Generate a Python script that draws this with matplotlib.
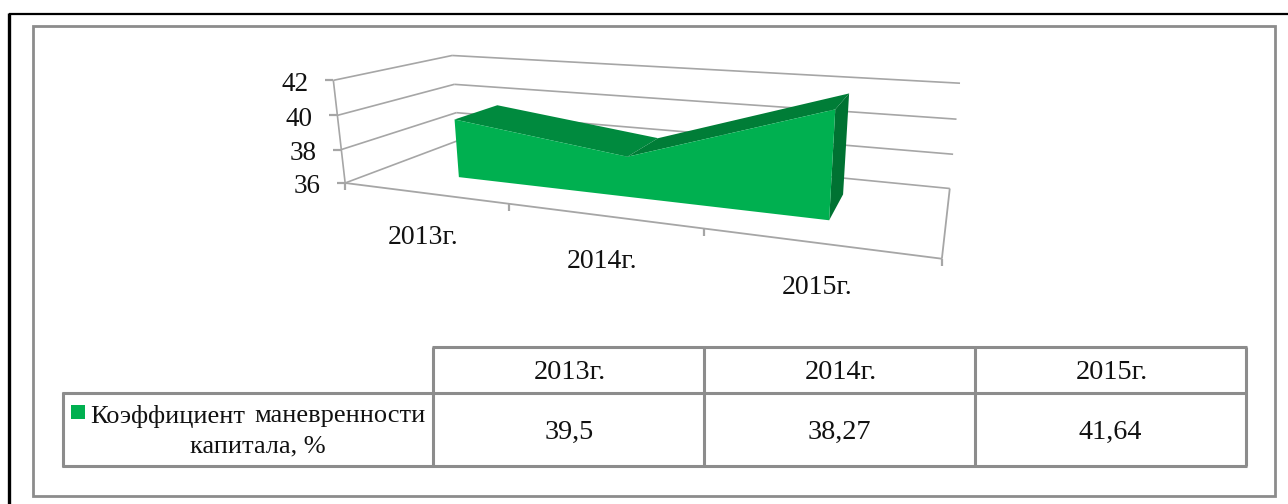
#!/usr/bin/env python3

import numpy as np
import matplotlib
matplotlib.use('Agg')
import matplotlib.pyplot as plt
from matplotlib.patches import Polygon, Rectangle

plt.rcParams['font.family'] = ['Liberation Serif', 'DejaVu Sans']

years = ['2013г.', '2014г.', '2015г.']
values = [39.5, 38.27, 41.64]
series_name = ['Коэффициент', 'маневренности', 'капитала, %']
y_ticks = [36, 38, 40, 42]

GREEN = '#00B050'
TOP1 = '#008A3E'
TOP2 = '#007D37'
SIDE = '#007232'
GRID = '#A6A6A6'
TABLE = '#8C8C8C'
TEXT = '#111111'

# depth of the area inside the box, 0 = front, 1 = back
w_front = 0.30
w_back = 0.71

# camera fit: (category pos, value, depth) -> picture pixel
calib = [
    (0, 42, 0, 333.3, 80), (0, 40, 0, 337.5, 115.7), (0, 38, 0, 341, 149.3), (0, 36, 0, 345, 183.3),
    (0, 42, 1, 452.3, 55.3), (0, 40, 1, 454.3, 84), (0, 38, 1, 456.7, 112.3),
    (3, 42, 1, 960, 83.3), (3, 40, 1, 956.7, 119), (3, 38, 1, 953.3, 154.3), (3, 36, 1, 950, 188),
    (3, 36, 0, 941.7, 258.3), (1, 36, 0, 509, 203.3), (2, 36, 0, 704.3, 229),
    (0.5, 39.5, w_front, 455, 120), (0.5, 36, w_front, 459, 177.3),
    (1.5, 38.27, w_front, 627.3, 156), (2.5, 41.64, w_front, 836, 109),
    (2.5, 36, w_front, 829.3, 220), (0.5, 39.5, w_back, 496.7, 105.7),
    (1.5, 38.27, w_back, 657.7, 139), (2.5, 41.64, w_back, 848.3, 94),
    (2.5, 36, w_back, 842.7, 195),
]


def norm(u, v, w):
    return u / 3.0, (v - 36) / 6.0, w


rows = []
for u, v, w, px, py in calib:
    a, b, c = norm(u, v, w)
    X = [a, b, c, 1]
    rows.append(X + [0, 0, 0, 0] + [-px / 1000 * x for x in X])
    rows.append([0, 0, 0, 0] + X + [-py / 1000 * x for x in X])
P = np.linalg.svd(np.array(rows))[2][-1].reshape(3, 4)


def proj(u, v, w):
    q = P @ np.array(list(norm(u, v, w)) + [1])
    return q[0] / q[2] * 1000, q[1] / q[2] * 1000


fig = plt.figure(figsize=(12.88, 5.04), dpi=100)
ax = fig.add_axes([0, 0, 1, 1])
ax.set_xlim(0, 1288)
ax.set_ylim(504, 0)
ax.axis('off')


def seg(p1, p2, color=GRID, lw=1.2, z=1):
    ax.plot([p1[0], p2[0]], [p1[1], p2[1]], color=color, lw=lw, zorder=z, solid_capstyle='butt')


# outer frames
seg((9, 14), (1288, 14), 'black', 1.6)
seg((9, 13), (9, 504), 'black', 2.4)
ax.add_patch(Rectangle((33.5, 26), 1241.5, 470, fill=False, ec=TABLE, lw=2.0, zorder=1))

# box walls and gridlines
for t in y_ticks:
    seg(proj(0, t, 0), proj(0, t, 1))
    seg(proj(0, t, 1), proj(3, t, 1))
    x0, y0 = proj(0, t, 0)
    seg((x0 - 8, y0), (x0, y0), lw=1.6)
    ax.text(x0 - 25, y0 + 4, str(t), fontsize=19.5, ha='right', va='center', color=TEXT)
seg(proj(0, 36, 0), proj(0, 42, 0))
seg(proj(0, 36, 0), proj(3, 36, 0), lw=1.3)
seg(proj(3, 36, 0), proj(3, 36, 1), lw=1.3)
for i in range(4):
    x0, y0 = proj(i, 36, 0)
    seg((x0, y0), (x0, y0 + 7), lw=1.6)

# area
us = [i + 0.5 for i in range(len(values))]
for i in range(len(values) - 1):
    ax.add_patch(Polygon([proj(us[i], values[i], w_front), proj(us[i], values[i], w_back),
                          proj(us[i + 1], values[i + 1], w_back), proj(us[i + 1], values[i + 1], w_front)],
                         fc=[TOP1, TOP2][i], ec='none', zorder=3))
ax.add_patch(Polygon([proj(us[-1], values[-1], w_front), proj(us[-1], values[-1], w_back),
                      proj(us[-1], 36, w_back), proj(us[-1], 36, w_front)],
                     fc=SIDE, ec='none', zorder=3))
front = [proj(u, v, w_front) for u, v in zip(us, values)]
front += [proj(us[-1], 36, w_front), proj(us[0], 36, w_front)]
ax.add_patch(Polygon(front, fc=GREEN, ec='none', zorder=4))

# category labels
label_pos = [(422.7, 237), (602, 261), (816.7, 288)]
for name, (lx, ly) in zip(years, label_pos):
    ax.text(lx, ly, name, fontsize=20, ha='center', va='center', color=TEXT)

# data table
col_x = [433.5, 704, 975, 1246]
for x in col_x:
    seg((x, 346.5), (x, 466), TABLE, 2.2, 2)
seg((432.4, 346.7), (1247.1, 346.7), TABLE, 2.2, 2)
seg((62, 393.3), (1247.1, 393.3), TABLE, 2.2, 2)
seg((62, 466), (1247.1, 466), TABLE, 2.2, 2)
seg((63, 392.2), (63, 467.1), TABLE, 2.2, 2)

for i, name in enumerate(years):
    cx = (col_x[i] + col_x[i + 1]) / 2
    ax.text(cx + 1.5, 372.5, name, fontsize=20.3, ha='center', va='center', color=TEXT)
    ax.text(cx, 432, str(values[i]).replace('.', ','), fontsize=20.3, ha='center', va='center', color=TEXT)

ax.add_patch(Rectangle((71, 405), 14, 14, fc=GREEN, ec='none', zorder=3))
ax.text(90, 416, series_name[0], fontsize=19, ha='left', va='center', color=TEXT)
ax.text(426, 416, series_name[1], fontsize=19, ha='right', va='center', color=TEXT)
ax.text(258, 446, series_name[2], fontsize=19, ha='center', va='center', color=TEXT)

fig.savefig('out.png', dpi=100)
